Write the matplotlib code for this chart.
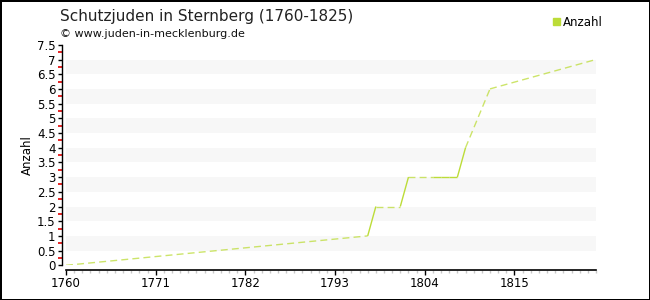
import matplotlib
matplotlib.use("Agg")
import matplotlib.pyplot as plt
from matplotlib.ticker import MultipleLocator

# Daten
years = [1760, 1797, 1798, 1801, 1802, 1805, 1806, 1807, 1808, 1809, 1812, 1825]
counts = [0, 1, 2, 2, 3, 3, 3, 3, 3, 4, 6, 7]
x_ticks = [1760, 1771, 1782, 1793, 1804, 1815]
y_ticks = [0, 0.5, 1, 1.5, 2, 2.5, 3, 3.5, 4, 4.5, 5, 5.5, 6, 6.5, 7, 7.5]

title = "Schutzjuden in Sternberg (1760-1825)"
subtitle = "\u00a9 www.juden-in-mecklenburg.de"
series_name = "Anzahl"

LINE = '#bcdc38'

fig = plt.figure(figsize=(6.5, 3), dpi=100, edgecolor='black', linewidth=2)
ax = fig.add_axes([66 / 650, 1 - 265.3 / 300, 530 / 650, 220.5 / 300])

# graue Streifen im Hintergrund
for lo in y_ticks[1::2]:
    ax.axhspan(lo, lo + 0.5, color='#f7f7f7', lw=0, zorder=0)

# Linie: durchgehend bei aufeinanderfolgenden Jahren, sonst gestrichelt
for i in range(len(years) - 1):
    xs = years[i:i + 2]
    ys = counts[i:i + 2]
    if xs[1] - xs[0] == 1:
        ax.plot(xs, ys, color=LINE, lw=1.0, solid_capstyle='butt', zorder=3)
    else:
        ax.plot(xs, ys, color=LINE, lw=1.0, alpha=0.75, dashes=(5, 3), zorder=3)

ax.set_xlim(1760, 1825)
ax.set_ylim(0, 7.5)
ax.set_xticks(x_ticks)
ax.set_yticks(y_ticks)
ax.set_yticklabels([f"{v:g}" for v in y_ticks])
ax.xaxis.set_minor_locator(MultipleLocator(1))
ax.yaxis.set_minor_locator(MultipleLocator(0.25))

for s in ['top', 'right']:
    ax.spines[s].set_visible(False)
ax.spines['left'].set_position(('outward', 3))
ax.spines['bottom'].set_position(('outward', 3.5))
ax.spines['left'].set_linewidth(1)
ax.spines['bottom'].set_linewidth(1.2)

ax.tick_params(axis='both', which='major', length=3, width=1, labelsize=8.5,
               colors='black', pad=1.5)
ax.tick_params(axis='y', which='minor', length=3, width=1.2, color='#e00000')
ax.tick_params(axis='x', which='minor', length=2.2, width=1, color='#c8c8c8')
ax.tick_params(axis='x', which='major', length=3.5, pad=1.5)

ax.set_ylabel("Anzahl", fontsize=8.5, labelpad=2)

fig.text(60 / 650, 1 - 17 / 300, title, fontsize=11, va='center', ha='left', color='#222222')
fig.text(60 / 650, 1 - 34 / 300, subtitle, fontsize=8, va='center', ha='left', color='#111111')

# Legende
fig.patches.append(plt.Rectangle((553 / 650, 1 - 24.5 / 300), 7 / 650, 7 / 300,
                                 transform=fig.transFigure, color=LINE, figure=fig))
fig.text(563 / 650, 1 - 22 / 300, series_name, fontsize=8.5, va='center', ha='left')

fig.savefig("out.png", dpi=100)
